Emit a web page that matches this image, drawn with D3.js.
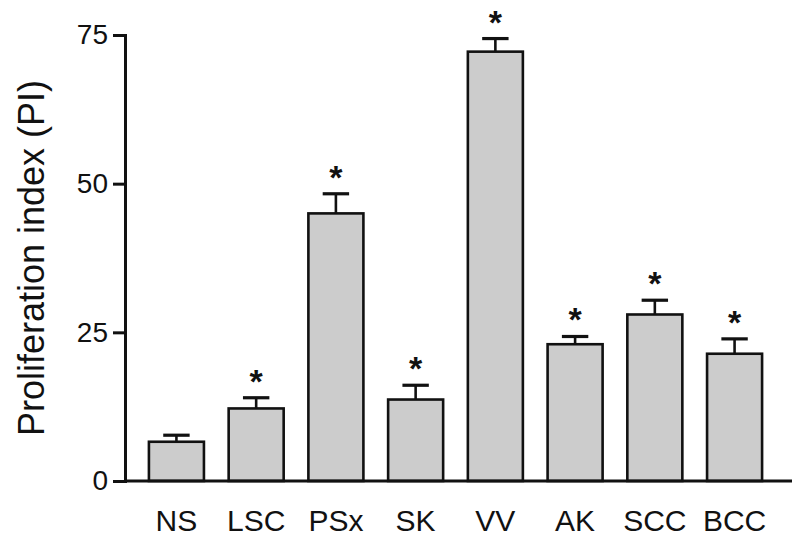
<!DOCTYPE html>
<html>
<head>
<meta charset="utf-8">
<script src="https://cdn.jsdelivr.net/npm/d3@7"></script>
<style>
  body { margin: 0; background: #fff; }
  svg { display: block; font-family: "Liberation Sans", Arial, sans-serif; }
</style>
</head>
<body>
<div id="chart"></div>
<script>
// data
var categories = ["NS", "LSC", "PSx", "SK", "VV", "AK", "SCC", "BCC"];
var values     = [6.6, 12.2, 45.0, 13.7, 72.2, 23.0, 28.0, 21.4];
var errors     = [1.1, 1.8, 3.3, 2.4, 2.2, 1.3, 2.4, 2.5];
var signif     = [false, true, true, true, true, true, true, true];
var yTicks     = [0, 25, 50, 75];

var W = 800, H = 543;
var margin = { top: 35, right: 14, bottom: 62, left: 125 };

var svg = d3.select("#chart").append("svg")
    .attr("width", W)
    .attr("height", H);

var x = d3.scaleBand()
    .domain(categories)
    .range([margin.left, 786])
    .paddingInner(0.31)
    .paddingOuter(0.30);

var y = d3.scaleLinear()
    .domain([0, 75])
    .range([H - margin.bottom, margin.top]);

var data = categories.map(function(c, i){
    return { name: c, value: values[i], err: errors[i], star: signif[i] };
});

// bars
svg.append("g")
  .selectAll("rect")
  .data(data)
  .join("rect")
    .attr("x", d => x(d.name))
    .attr("y", d => y(d.value))
    .attr("width", x.bandwidth())
    .attr("height", d => y(0) - y(d.value))
    .attr("fill", "#cccccc")
    .attr("stroke", "#111")
    .attr("stroke-width", 2.6);

// error bars (upper only)
var capW = x.bandwidth() * 0.48;
var eb = svg.append("g").attr("stroke", "#111").attr("stroke-width", 2.6);
eb.selectAll("line.v")
  .data(data)
  .join("line")
    .attr("class", "v")
    .attr("x1", d => x(d.name) + x.bandwidth() / 2)
    .attr("x2", d => x(d.name) + x.bandwidth() / 2)
    .attr("y1", d => y(d.value))
    .attr("y2", d => y(d.value + d.err));
eb.selectAll("line.cap")
  .data(data)
  .join("line")
    .attr("class", "cap")
    .attr("stroke-width", 3.2)
    .attr("x1", d => x(d.name) + x.bandwidth() / 2 - capW / 2)
    .attr("x2", d => x(d.name) + x.bandwidth() / 2 + capW / 2)
    .attr("y1", d => y(d.value + d.err))
    .attr("y2", d => y(d.value + d.err));

// significance stars
svg.append("g")
  .selectAll("text")
  .data(data.filter(d => d.star))
  .join("text")
    .attr("x", d => x(d.name) + x.bandwidth() / 2)
    .attr("y", d => y(d.value + d.err) - 5)
    .attr("text-anchor", "middle")
    .attr("font-size", 34)
    .attr("font-weight", "bold")
    .attr("fill", "#111")
    .text("*");

// y axis
var yAxis = svg.append("g")
    .attr("transform", `translate(${margin.left},0)`)
    .call(d3.axisLeft(y).tickValues(yTicks).tickSize(12).tickPadding(5).tickFormat(d3.format("d")));
yAxis.select(".domain").attr("stroke", "#111").attr("stroke-width", 3);
yAxis.selectAll(".tick line").attr("stroke", "#111").attr("stroke-width", 3);
yAxis.selectAll(".tick text")
    .attr("font-size", 28)
    .attr("fill", "#111")
    .attr("font-family", "Liberation Sans, Arial, sans-serif");

// x axis baseline
svg.append("line")
    .attr("x1", margin.left)
    .attr("x2", W - 8)
    .attr("y1", y(0))
    .attr("y2", y(0))
    .attr("stroke", "#111")
    .attr("stroke-width", 3);

// x labels
svg.append("g")
  .selectAll("text")
  .data(categories)
  .join("text")
    .attr("x", d => x(d) + x.bandwidth() / 2)
    .attr("y", y(0) + 50)
    .attr("text-anchor", "middle")
    .attr("font-size", 30)
    .attr("fill", "#111")
    .text(d => d);

// y title
svg.append("text")
    .attr("transform", `translate(44, ${(y(0) + y(75)) / 2}) rotate(-90)`)
    .attr("text-anchor", "middle")
    .attr("font-size", 36)
    .attr("fill", "#111")
    .text("Proliferation index (PI)");
</script>
</body>
</html>
